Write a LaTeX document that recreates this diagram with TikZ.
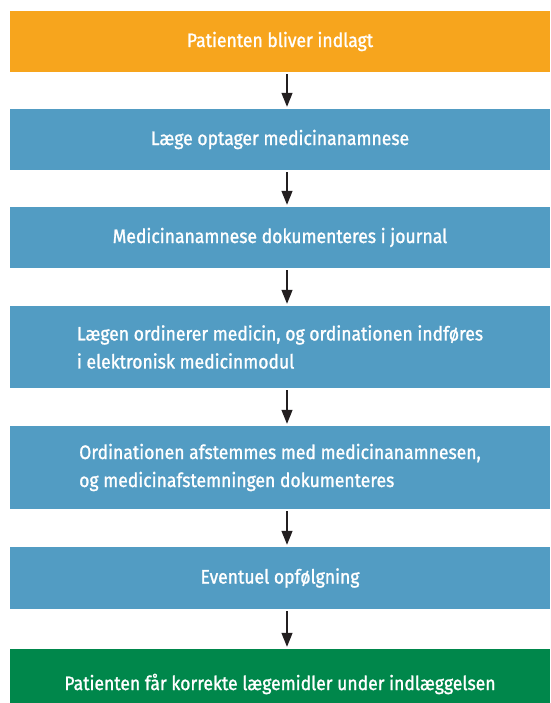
\documentclass[tikz,border=0pt]{standalone}
\usepackage{fontspec}
\setmainfont{Fira Sans}[FakeStretch=0.9,FakeBold=1.2]
\usetikzlibrary{arrows.meta}
\definecolor{boxorange}{RGB}{247,165,29}
\definecolor{boxblue}{RGB}{82,156,195}
\definecolor{boxgreen}{RGB}{0,135,75}
\definecolor{arrowdark}{RGB}{35,31,32}
\tikzset{
  flowbox/.style={minimum width=540pt, inner sep=0pt, text=white, align=left,
    font=\fontsize{19.5}{28}\selectfont},
  flowarrow/.style={draw=arrowdark, line width=1.3pt, -{Triangle[width=11pt,length=14pt]}}
}
\begin{document}
\begin{tikzpicture}[x=1pt,y=1pt]
\useasboundingbox (0,0) rectangle (550,703);
\clip (0,0) rectangle (550,703);
\fill[white] (0,0) rectangle (550,703);
\node[flowbox, fill=boxorange, minimum height=61pt] (b1) at (280,661.5) {Patienten bliver indlagt};
\node[flowbox, fill=boxblue, minimum height=61pt] (b2) at (280,563.5) {Læge optager medicinanamnese};
\node[flowbox, fill=boxblue, minimum height=61pt] (b3) at (280,465.5) {Medicinanamnese dokumenteres i journal};
\node[flowbox, fill=boxblue, minimum height=82pt] (b4) at (280,356) {Lægen ordinerer medicin, og ordinationen indføres\\i elektronisk medicinmodul};
\node[flowbox, fill=boxblue, minimum height=83pt] (b5) at (280,235.5) {Ordinationen afstemmes med medicinanamnesen,\\og medicinafstemningen dokumenteres};
\node[flowbox, fill=boxblue, minimum height=62pt] (b6) at (280,125) {Eventuel opfølgning};
\node[flowbox, fill=boxgreen, minimum height=70pt] (b7) at (280,19) {Patienten får korrekte lægemidler under indlæggelsen};
\foreach \a/\b in {b1/b2,b2/b3,b3/b4,b4/b5,b5/b6,b6/b7}{
  \draw[flowarrow] ([xshift=7pt,yshift=-2pt]\a.south) -- ([xshift=7pt,yshift=2pt]\b.north);
}
\end{tikzpicture}
\end{document}
